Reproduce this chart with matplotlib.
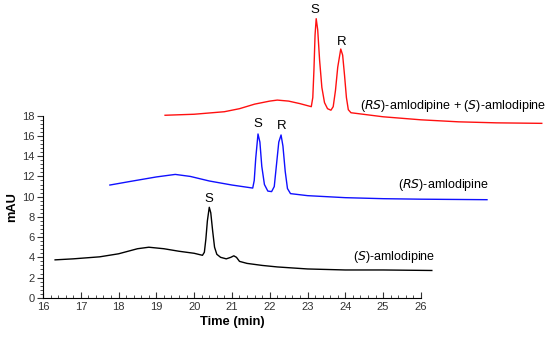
import matplotlib
matplotlib.use("Agg")
import matplotlib.pyplot as plt
from matplotlib.ticker import MultipleLocator

plt.rcParams['font.family'] = ['Liberation Sans', 'DejaVu Sans']

# (S)-amlodipine trace (black)
t_s = [16.32, 16.8, 17.5, 18.0, 18.5, 18.8, 19.2, 19.6, 20.0, 20.22, 20.27, 20.31, 20.35, 20.4,
       20.44, 20.49, 20.54, 20.6, 20.7, 20.85, 20.97, 21.05, 21.12, 21.2, 21.4, 21.8, 22.2, 23.0,
       24.0, 25.0, 26.29]
y_s = [3.75, 3.85, 4.05, 4.35, 4.85, 5.0, 4.85, 4.6, 4.4, 4.2, 4.5, 5.8, 7.6, 8.95,
       8.4, 6.6, 5.0, 4.3, 4.0, 3.85, 4.0, 4.15, 4.0, 3.6, 3.4, 3.2, 3.05, 2.85,
       2.75, 2.75, 2.7]

# (RS)-amlodipine trace (blue)
t_rs = [17.77, 18.3, 19.0, 19.5, 19.9, 20.4, 21.0, 21.55, 21.59, 21.63, 21.69, 21.74, 21.79, 21.86,
        21.95, 22.05, 22.12, 22.18, 22.24, 22.3, 22.35, 22.41, 22.47, 22.55, 23.0, 24.0, 25.0, 26.0,
        27.75]
y_rs = [11.15, 11.5, 11.95, 12.2, 12.0, 11.55, 11.15, 10.85, 11.6, 13.8, 16.2, 15.4, 13.0, 11.2,
        10.55, 10.5, 11.0, 13.2, 15.4, 16.1, 15.0, 12.5, 10.8, 10.3, 10.1, 9.9, 9.8, 9.75,
        9.7]

# (RS)-amlodipine + (S)-amlodipine trace (red)
t_mix = [19.23, 20.0, 20.8, 21.2, 21.6, 22.0, 22.2, 22.5, 22.8, 23.1, 23.14, 23.17, 23.2, 23.23,
         23.27, 23.32, 23.38, 23.45, 23.53, 23.62, 23.68, 23.74, 23.8, 23.88, 23.93, 23.98, 24.03,
         24.08, 24.15, 25.0, 26.0, 27.0, 28.0, 29.2]
y_mix = [18.05, 18.15, 18.4, 18.7, 19.15, 19.45, 19.55, 19.45, 19.2, 18.9, 19.8, 22.5, 26.0, 27.6,
         26.5, 23.5, 20.8, 19.3, 18.7, 18.55, 18.9, 20.5, 22.8, 24.6, 24.0, 22.0, 19.8,
         18.6, 18.3, 17.9, 17.6, 17.4, 17.3, 17.25]

fig = plt.figure(figsize=(5.5, 3.38), dpi=100)
ax = fig.add_axes([0.0782, 0.119, 0.687, 0.5385])

ax.plot(t_s, y_s, color='black', lw=1.0, clip_on=False)
ax.plot(t_rs, y_rs, color='#1010ff', lw=1.0, clip_on=False)
ax.plot(t_mix, y_mix, color='#ff1010', lw=1.0, clip_on=False)

ax.set_xlim(16, 26)
ax.set_ylim(0, 18)
ax.xaxis.set_major_locator(MultipleLocator(1))
ax.xaxis.set_minor_locator(MultipleLocator(0.2))
ax.yaxis.set_major_locator(MultipleLocator(2))
ax.yaxis.set_minor_locator(MultipleLocator(0.4))
ax.spines['top'].set_visible(False)
ax.spines['right'].set_visible(False)
ax.tick_params(axis='x', which='major', direction='in', length=4, labelsize=8, pad=3)
ax.tick_params(axis='x', which='minor', direction='in', length=2)
ax.tick_params(axis='y', which='major', direction='out', length=4, labelsize=8, pad=2)
ax.tick_params(axis='y', which='minor', direction='out', length=2)
ax.tick_params(colors='#333333', which='both')
ax.set_xlabel('Time (min)', fontsize=9.3, fontweight='bold', labelpad=3)
ax.set_ylabel('mAU', fontsize=9.3, fontweight='bold', labelpad=3)

fs = 9.5
ax.text(20.4, 9.75, 'S', ha='center', va='center', fontsize=fs, clip_on=False)
ax.text(21.69, 17.2, 'S', ha='center', va='center', fontsize=fs, clip_on=False)
ax.text(22.32, 16.95, 'R', ha='center', va='center', fontsize=fs, clip_on=False)
ax.text(23.2, 28.5, 'S', ha='center', va='center', fontsize=fs, clip_on=False)
ax.text(23.91, 25.3, 'R', ha='center', va='center', fontsize=fs, clip_on=False)

lfs = 9
ax.text(24.2, 4.0, '($\\it{S}$)-amlodipine', ha='left', va='center', fontsize=lfs, clip_on=False)
ax.text(25.39, 11.2, '($\\it{RS}$)-amlodipine', ha='left', va='center', fontsize=lfs, clip_on=False)
ax.text(24.39, 18.96, '($\\it{RS}$)-amlodipine + ($\\it{S}$)-amlodipine', ha='left', va='center',
        fontsize=lfs, clip_on=False)

fig.savefig('out.png', dpi=100)
